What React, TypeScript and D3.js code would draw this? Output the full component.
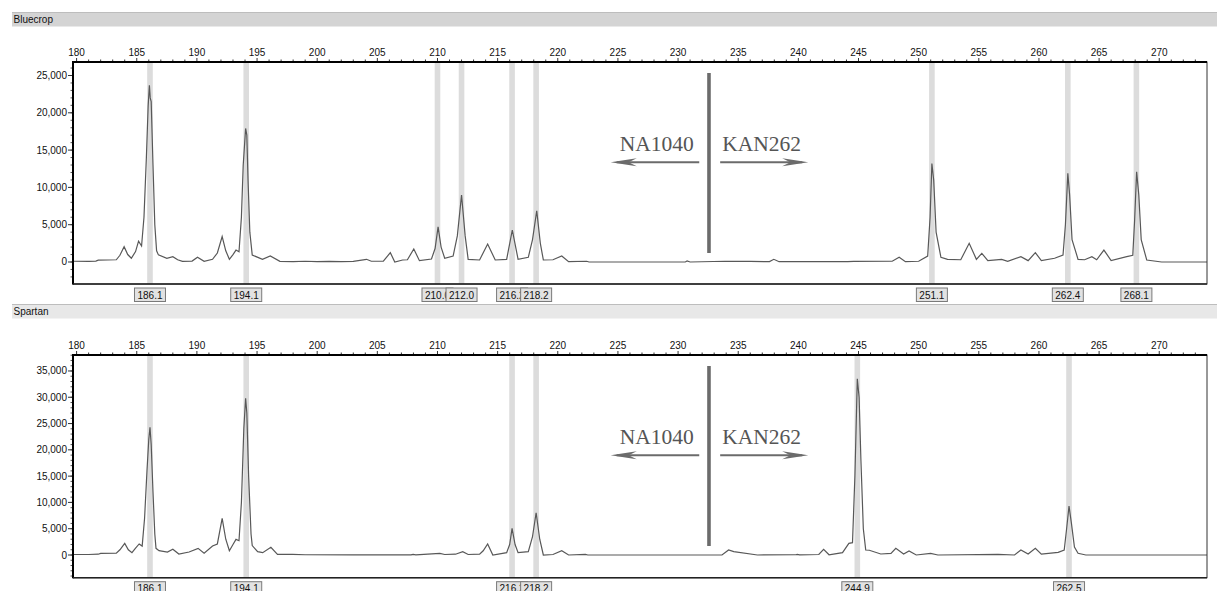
import React from 'react';
import * as d3 from 'd3';

// size standard (bp) shown on the top axis
const sizeTicks = [180, 185, 190, 195, 200, 205, 210, 215, 220, 225, 230, 235, 240, 245, 250, 255, 260, 265, 270];
const sampleNames = ['Bluecrop', 'Spartan'];
const markerLabels = ['NA1040', 'KAN262'];
const markerBoundary = 232.57;

const bluecropYTicks = [0, 5000, 10000, 15000, 20000, 25000];
const spartanYTicks = [0, 5000, 10000, 15000, 20000, 25000, 30000, 35000];

const bluecropPeaks = [186.1, 194.1, 210.0, 212.0, 216.2, 218.2, 251.1, 262.4, 268.1];
const spartanPeaks = [186.1, 194.1, 216.2, 218.2, 244.9, 262.5];

// [bp, RFU]
const bluecropTrace: [number, number][] = [
  [179.7, 100], [181.0, 80], [181.6, 120], [181.8, 250], [183.3, 300], [183.6, 900], [183.95, 2050],
  [184.25, 1000], [184.55, 500], [184.9, 1400], [185.15, 2800], [185.4, 2150], [185.6, 6000],
  [185.8, 14000], [185.95, 21000], [186.05, 23700], [186.12, 22000], [186.2, 21500], [186.35, 13000],
  [186.5, 5000], [186.65, 1500], [186.8, 950], [187.5, 500], [188.0, 710], [188.4, 300], [188.8, 90],
  [189.6, 120], [190.05, 630], [190.6, 90], [191.3, 360], [191.7, 1200], [192.1, 3400], [192.4, 1500],
  [192.7, 360], [193.0, 1000], [193.25, 1600], [193.5, 1380], [193.7, 6000], [193.85, 13000],
  [194.05, 17900], [194.15, 17000], [194.25, 11000], [194.4, 4000], [194.6, 940], [195.45, 360],
  [196.1, 800], [196.9, 90], [198.0, 60], [199.0, 100], [200.0, 40], [201.0, 90], [202.0, 50],
  [203.0, 80], [204.1, 360], [204.5, 100], [205.5, 110], [206.08, 1250], [206.45, 0], [207.1, 270],
  [207.5, 300], [208.03, 1740], [208.5, 180], [209.5, 400], [209.8, 1800], [210.05, 4700], [210.3, 2000],
  [210.6, 500], [211.3, 800], [211.65, 3500], [212.0, 8980], [212.3, 3500], [212.55, 360], [213.5, 270],
  [214.17, 2410], [214.8, 270], [215.75, 360], [216.22, 4290], [216.7, 360], [217.55, 630], [217.9, 3000],
  [218.25, 6870], [218.55, 2500], [218.8, 270], [219.6, 300], [220.33, 800], [220.9, 40], [222.4, 100],
  [222.6, 0], [230.6, 0], [230.75, 130], [231.0, 0], [233.9, 100], [236.0, 80], [237.6, 50],
  [237.96, 360], [238.4, 40], [239.6, 40], [244.1, 60], [244.6, 80], [247.8, 100], [248.38, 630],
  [248.9, 50], [250.0, 100], [250.75, 800], [250.95, 6000], [251.1, 13200], [251.25, 11000],
  [251.45, 4000], [251.85, 630], [252.4, 360], [253.5, 300], [254.2, 2500], [254.8, 360], [255.25, 1160],
  [255.75, 180], [256.9, 360], [257.4, 100], [258.5, 710], [259.1, 180], [259.7, 1250], [260.2, 180],
  [261.3, 500], [262.0, 940], [262.2, 5000], [262.4, 11900], [262.55, 9000], [262.75, 3000],
  [263.25, 360], [263.8, 300], [264.4, 710], [264.8, 300], [265.4, 1600], [266.0, 200], [267.3, 710],
  [267.8, 900], [267.95, 5500], [268.12, 12100], [268.3, 9000], [268.5, 3000], [268.96, 270],
  [270.2, 0], [274.0, 0],
];

const spartanTrace: [number, number][] = [
  [179.7, 100], [181.0, 100], [181.8, 150], [182.0, 300], [183.3, 350], [183.6, 1000], [184.0, 2200],
  [184.3, 1000], [184.6, 450], [184.9, 1300], [185.2, 2100], [185.45, 1700], [185.65, 7000],
  [185.85, 16000], [186.0, 22000], [186.1, 24300], [186.2, 21000], [186.35, 12000], [186.5, 4000],
  [186.6, 1270], [186.85, 820], [187.55, 570], [188.0, 1080], [188.5, 190], [189.35, 570], [190.1, 1270],
  [190.6, 320], [191.3, 1700], [191.7, 2100], [192.1, 6980], [192.4, 3000], [192.7, 820], [193.0, 2000],
  [193.25, 2980], [193.5, 2720], [193.7, 10000], [193.9, 24000], [194.05, 29800], [194.15, 27000],
  [194.3, 15000], [194.5, 4000], [194.6, 1800], [195.05, 630], [195.47, 440], [196.15, 1460],
  [196.7, 130], [197.95, 130], [199.0, 50], [203.0, 30], [207.8, 30], [207.97, 130], [208.2, 30],
  [210.2, 320], [210.6, 100], [211.5, 150], [212.1, 630], [212.55, 100], [213.5, 150], [213.8, 800],
  [214.17, 2100], [214.6, 0], [215.75, 440], [216.0, 2000], [216.2, 5070], [216.45, 2000], [216.7, 440],
  [217.55, 630], [217.9, 3500], [218.2, 8040], [218.5, 3000], [218.8, 0], [219.6, 100], [220.33, 820],
  [220.9, 0], [222.3, 100], [222.5, 0], [233.65, 0], [234.2, 950], [234.63, 630], [236.6, 0],
  [239.8, 50], [239.9, 100], [240.1, 30], [241.7, 100], [242.1, 1080], [242.55, 50], [243.67, 440],
  [244.2, 2220], [244.5, 2340], [244.7, 15000], [244.9, 33500], [245.05, 30000], [245.2, 18000],
  [245.4, 5000], [245.6, 950], [245.9, 900], [246.85, 190], [247.7, 300], [248.1, 1270], [248.75, 190],
  [249.2, 760], [249.8, 0], [251.0, 320], [251.6, 0], [256.6, 100], [257.97, 0], [258.5, 950],
  [259.1, 190], [259.7, 1270], [260.2, 150], [261.6, 500], [262.1, 950], [262.3, 5000], [262.5, 9310],
  [262.7, 6000], [262.95, 1500], [263.25, 320], [263.9, 0], [274.0, 0],
];

const W = 1217;
const H = 591;
const plotLeft = 73;
const plotRight = 1207;
const font = '"Liberation Sans", Arial, sans-serif';

const panels = [
  { name: sampleNames[0], trace: bluecropTrace, peaks: bluecropPeaks, yTicks: bluecropYTicks,
    yDomain: [-2950, 26810], header: 12, plotTop: 62, plotBottom: 284 },
  { name: sampleNames[1], trace: spartanTrace, peaks: spartanPeaks, yTicks: spartanYTicks,
    yDomain: [-4317, 38037], header: 304, plotTop: 355, plotBottom: 577.7 },
];

const x = d3.scaleLinear().domain([179.7, 273.97]).range([plotLeft, plotRight]);
const fmtY = d3.format(',');
const fmtPeak = d3.format('.1f');

function Panel({ p, idx }: { p: typeof panels[number]; idx: number }) {
  const y = d3.scaleLinear().domain(p.yDomain).range([p.plotBottom, p.plotTop]);
  const line = d3.line<[number, number]>().x(d => x(d[0])).y(d => y(d[1]));
  const minorX = d3.range(180, 274, 1);
  const minorY = d3.range(Math.ceil(p.yDomain[0] / 1000) * 1000, p.yDomain[1], 1000);
  const clipId = `clip-${idx}`;
  const top = p.plotTop;

  // arrows / divider drawn relative to the plot top
  const divTop = top + 11;
  const divBottom = top + 191;
  const arrowY = top + 100.3;
  const textY = top + 88.7;
  const annColor = '#6b6b6b';
  const leftTip = x(224.4), leftIn = x(231.76), rightIn = x(233.5), rightTip = x(240.82);

  return (
    <g>
      <rect x={12} y={p.header} width={W - 12} height={14.5} fill={idx === 0 ? '#d4d4d4' : '#e8e8e8'} />
      <line x1={12} x2={W} y1={p.header + 0.5} y2={p.header + 0.5} stroke="#bdbdbd" />
      <text x={13.5} y={p.header + 11} fontFamily={font} fontSize={10} fill="#111">{p.name}</text>

      <defs>
        <clipPath id={clipId}>
          <rect x={plotLeft} y={p.plotTop} width={plotRight - plotLeft} height={p.plotBottom - p.plotTop} />
        </clipPath>
      </defs>

      <rect x={plotLeft} y={p.plotTop} width={plotRight - plotLeft} height={p.plotBottom - p.plotTop} fill="#fff" />

      {p.peaks.map(v => (
        <rect key={v} x={x(v) - 2.8} y={p.plotTop} width={5.6} height={p.plotBottom - p.plotTop} fill="#dcdcdc" />
      ))}

      <path d={line(p.trace) || ''} fill="none" stroke="#585858" strokeWidth={1.2} clipPath={`url(#${clipId})`} />

      {/* frame */}
      <rect x={plotLeft} y={p.plotTop} width={plotRight - plotLeft} height={p.plotBottom - p.plotTop}
        fill="none" stroke="#333" strokeWidth={1} />
      <line x1={plotLeft - 1} x2={plotRight} y1={p.plotTop} y2={p.plotTop} stroke="#000" strokeWidth={2} />
      <line x1={plotLeft} x2={plotLeft} y1={p.plotTop} y2={p.plotBottom + 0.5} stroke="#000" strokeWidth={2} />
      <line x1={plotLeft} x2={plotRight} y1={p.plotBottom} y2={p.plotBottom} stroke="#222" strokeWidth={1.5} />

      {/* top size axis */}
      {minorX.map(v => (
        <line key={v} x1={x(v)} x2={x(v)} y1={p.plotTop - 1} y2={p.plotTop - (v % 5 === 0 ? 4 : 2.5)} stroke="#333" strokeWidth={1} />
      ))}
      {sizeTicks.map(v => (
        <text key={v} x={x(v)} y={p.plotTop - 6.5} textAnchor="middle" fontFamily={font} fontSize={10} fill="#111">{v}</text>
      ))}

      {/* left RFU axis */}
      {minorY.map(v => (
        <line key={v} x1={plotLeft - 1} x2={plotLeft - 2.5} y1={y(v)} y2={y(v)} stroke="#555" strokeWidth={1} />
      ))}
      {p.yTicks.map(v => (
        <g key={v}>
          <line x1={plotLeft - 1} x2={plotLeft - 5} y1={y(v)} y2={y(v)} stroke="#333" strokeWidth={1} />
          <text x={plotLeft - 6} y={y(v) + 3.5} textAnchor="end" fontFamily={font} fontSize={10} fill="#111">{fmtY(v)}</text>
        </g>
      ))}

      {/* peak size labels */}
      {p.peaks.map(v => (
        <g key={v}>
          <rect x={x(v) - 15.5} y={p.plotBottom + 4} width={31} height={13.5} fill="#e2e2e2" stroke="#7a7a7a" strokeWidth={1} />
          <text x={x(v)} y={p.plotBottom + 14.5} textAnchor="middle" fontFamily={font} fontSize={10} fill="#111">{fmtPeak(v)}</text>
        </g>
      ))}

      {/* marker boundary annotation */}
      <line x1={x(markerBoundary)} x2={x(markerBoundary)} y1={divTop} y2={divBottom} stroke={annColor} strokeWidth={3.6} />
      <text x={x(228.22)} y={textY} textAnchor="middle" fontFamily='"Liberation Serif", "Times New Roman", serif' fontSize={21.5} fill="#555">{markerLabels[0]}</text>
      <text x={x(236.95)} y={textY} textAnchor="middle" fontFamily='"Liberation Serif", "Times New Roman", serif' fontSize={21.5} fill="#555">{markerLabels[1]}</text>
      <line x1={leftIn} x2={leftTip + 6} y1={arrowY} y2={arrowY} stroke={annColor} strokeWidth={2} />
      <path d={`M${leftTip},${arrowY} L${leftTip + 26},${arrowY - 4} L${leftTip + 18},${arrowY} L${leftTip + 26},${arrowY + 4} Z`} fill={annColor} />
      <line x1={rightIn} x2={rightTip - 6} y1={arrowY} y2={arrowY} stroke={annColor} strokeWidth={2} />
      <path d={`M${rightTip},${arrowY} L${rightTip - 26},${arrowY - 4} L${rightTip - 18},${arrowY} L${rightTip - 26},${arrowY + 4} Z`} fill={annColor} />
    </g>
  );
}

export default function App() {
  return (
    <div style={{ position: 'absolute', left: 0, top: 0 }}>
      <svg width={W} height={H} style={{ display: 'block', background: '#fff' }}>
        {panels.map((p, i) => <Panel key={p.name} p={p} idx={i} />)}
      </svg>
    </div>
  );
}
